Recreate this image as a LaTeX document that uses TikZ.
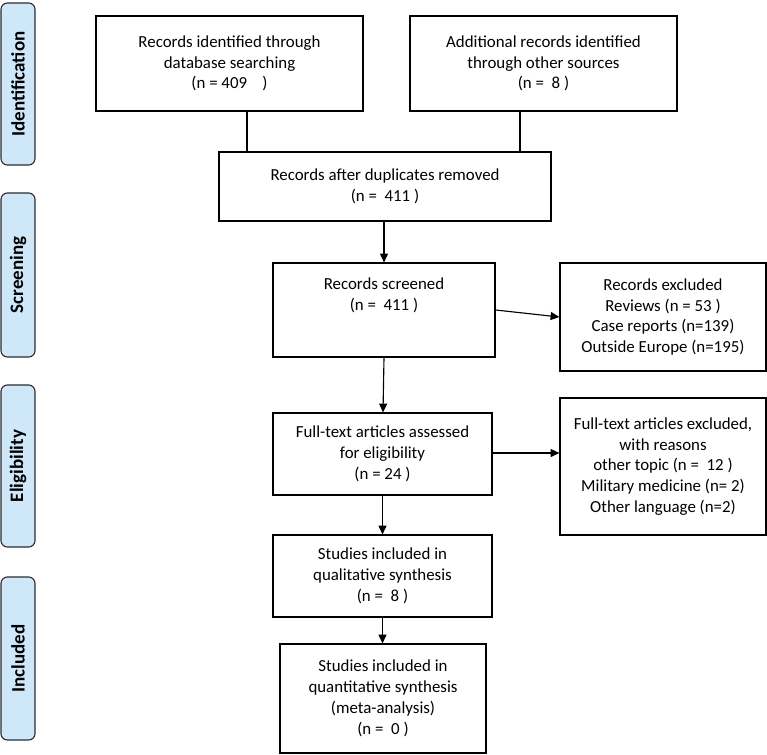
\documentclass[tikz,border=0pt]{standalone}
\usepackage[RGB]{xcolor}
\usepackage{fontspec}
\setmainfont{Carlito}
\usetikzlibrary{arrows.meta}
\definecolor{stage}{RGB}{206,232,250}
\definecolor{stageline}{RGB}{45,45,45}
\newcommand{\drawarrow}{\draw[line width=0.8pt,-{Triangle[length=2.2mm,width=2mm]}]}
\newcommand{\drawplain}{\draw[line width=0.8pt]}
\tikzset{
  box/.style={draw, line width=0.8pt, align=center, inner sep=0pt,
    font=\fontsize{12}{14.8}\selectfont},
  stagebox/.style={draw=stageline, fill=stage, rounded corners=1.6mm, line width=0.8pt,
    rotate=90, minimum height=0.85cm, inner sep=0pt,
    font=\fontsize{13.5}{15}\selectfont\bfseries}
}

\begin{document}
\begin{tikzpicture}[x=0.025cm, y=-0.025cm]
\useasboundingbox (0,0) rectangle (767,754);
% stages on the left
\foreach \name/\y/\h in {Identification/84/4.05, Screening/275/4.1, Eligibility/466/4.05, Included/658.5/4.075}{
  \node[stagebox, minimum width=\h cm] (stage\name) at (18,\y) {\name};
}
% boxes
\node[box, minimum width=6.675cm, minimum height=2.375cm] (db) at (229.5,63.5)
  {Records identified through\\database searching\\(n = 409\ \ \ \ )};
\node[box, minimum width=6.675cm, minimum height=2.375cm] (other) at (543.5,63.5)
  {Additional records identified\\through other sources\\(n = \ 8 )};
\node[box, minimum width=8.3cm, minimum height=1.725cm] (dup) at (385,186.5)
  {Records after duplicates removed\\(n = \ 411 )};
\node[box, minimum width=5.55cm, minimum height=2.35cm] (screened) at (384,310)
  {Records screened\\(n = \ 411 )\\[8pt]};
\node[box, minimum width=5.15cm, minimum height=2.7cm] (excl1) at (663,317)
  {Records excluded\\Reviews (n = 53 )\\Case reports (n=139)\\Outside Europe (n=195)};
\node[box, minimum width=5.475cm, minimum height=2.05cm] (fulltext) at (382.5,454)
  {Full-text articles assessed\\for eligibility\\(n = 24 )};
\node[box, minimum width=5.15cm, minimum height=3.425cm] (excl2) at (663,466.5)
  {Full-text articles excluded,\\with reasons\\other topic (n = \ 12 )\\Military medicine (n= 2)\\Other language (n=2)};
\node[box, minimum width=5.475cm, minimum height=2.05cm] (qual) at (382.5,576)
  {Studies included in\\qualitative synthesis\\(n = \ 8 )};
\node[box, minimum width=5.15cm, minimum height=2.725cm] (quant) at (383,698.5)
  {Studies included in\\quantitative synthesis\\(meta-analysis)\\(n = \ 0 )};
% connectors
\drawplain ([xshift=0.4375cm]db.south) -- ([xshift=0.4375cm]db.south |- dup.north);
\drawplain ([xshift=-0.5875cm]other.south) -- ([xshift=-0.5875cm]other.south |- dup.north);
\drawarrow ([xshift=-0.025cm]dup.south) -- (screened.north);
\drawarrow (screened.south) -- ([xshift=0.0125cm]fulltext.north);
\drawarrow (screened.east) -- (excl1.west);
\drawarrow ([yshift=0.025cm]fulltext.east) -- ([yshift=0.025cm]fulltext.east -| excl2.west);
\drawarrow (fulltext.south) -- (qual.north);
\drawarrow (qual.south) -- (qual.south |- quant.north);
\end{tikzpicture}
\end{document}
